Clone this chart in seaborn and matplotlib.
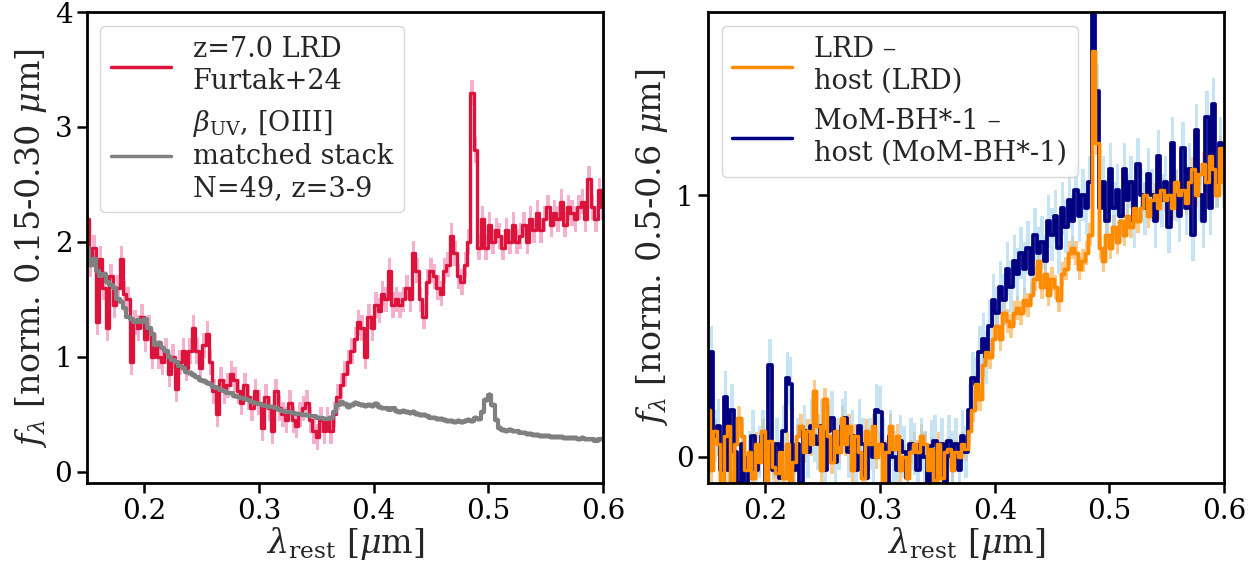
import numpy as np
import matplotlib
matplotlib.use("Agg")
import matplotlib.pyplot as plt
import seaborn as sns

# ---------------- data ----------------
wl = np.round(np.arange(0.150, 0.6001, 0.003), 3)  # rest wavelength grid [micron]

red_lrd = [
    2.2, 1.8, 1.95, 1.3, 1.85, 1.6, 1.25, 1.7, 1.45, 1.6,
    1.85, 1.55, 1.5, 0.95, 1.3, 1.25, 1.35, 1.15, 1.25, 1.0,
    1.1, 1.0, 0.95, 1.05, 0.85, 1.0, 0.72, 0.95, 1.05, 0.9,
    1.05, 1.25, 1.05, 0.9, 1.1, 1.2, 0.95, 0.7, 0.5, 0.8,
    0.7, 0.75, 0.85, 0.8, 0.7, 0.6, 0.75, 0.65, 0.55, 0.7,
    0.6, 0.38, 0.65, 0.55, 0.35, 0.7, 0.55, 0.5, 0.45, 0.6,
    0.45, 0.4, 0.5, 0.55, 0.6, 0.45, 0.35, 0.3, 0.45, 0.35,
    0.45, 0.35, 0.5, 0.65, 0.75, 0.85, 0.95, 1.05, 1.15, 1.3,
    1.25, 1.0, 1.35, 1.25, 1.45, 1.4, 1.55, 1.5, 1.75, 1.45,
    1.5, 1.45, 1.5, 1.6, 1.5, 1.9, 1.75, 1.5, 1.35, 1.65,
    1.75, 1.7, 1.6, 1.55, 1.75, 1.8, 2.05, 1.9, 1.7, 1.65,
    1.8, 2.0, 3.3, 2.8, 1.95, 2.2, 1.95, 2.15, 2.0, 2.1,
    2.05, 1.95, 2.1, 2.0, 2.15, 2.0, 2.05, 2.15, 2.0, 2.2,
    2.1, 2.25, 2.1, 2.2, 2.3, 2.15, 2.25, 2.2, 2.35, 2.15,
    2.3, 2.25, 2.2, 2.3, 2.35, 2.2, 2.55, 2.3, 2.2, 2.45,
    2.3,
]

gray_stack = [
    1.95, 1.80, 1.85, 1.75, 1.70, 1.72, 1.65, 1.62, 1.60, 1.50,
    1.48, 1.42, 1.35, 1.33, 1.30, 1.32, 1.30, 1.33, 1.25, 1.20,
    1.10, 1.12, 1.08, 1.05, 1.00, 0.97, 0.95, 0.92, 0.90, 0.87,
    0.86, 0.84, 0.82, 0.80, 0.79, 0.77, 0.76, 0.74, 0.73, 0.71,
    0.70, 0.68, 0.68, 0.66, 0.65, 0.64, 0.63, 0.62, 0.61, 0.60,
    0.59, 0.58, 0.57, 0.56, 0.56, 0.55, 0.54, 0.53, 0.52, 0.52,
    0.51, 0.50, 0.50, 0.49, 0.49, 0.48, 0.48, 0.47, 0.47, 0.46,
    0.46, 0.47, 0.52, 0.58, 0.61, 0.59, 0.56, 0.58, 0.60, 0.59,
    0.58, 0.57, 0.58, 0.57, 0.59, 0.56, 0.55, 0.55, 0.54, 0.55,
    0.53, 0.52, 0.53, 0.52, 0.51, 0.52, 0.50, 0.49, 0.49, 0.48,
    0.47, 0.47, 0.46, 0.46, 0.45, 0.44, 0.44, 0.43, 0.44, 0.43,
    0.44, 0.45, 0.44, 0.47, 0.46, 0.52, 0.62, 0.67, 0.58, 0.45,
    0.38, 0.36, 0.35, 0.36, 0.35, 0.35, 0.34, 0.34, 0.33, 0.33,
    0.32, 0.32, 0.31, 0.31, 0.31, 0.30, 0.30, 0.30, 0.30, 0.29,
    0.29, 0.29, 0.29, 0.28, 0.29, 0.28, 0.28, 0.28, 0.27, 0.28,
    0.28,
]

orange_lrd_host = [
    0.18, -0.05, 0.1, 0.05, -0.12, 0.08, 0.12, -0.1, 0.05, 0.15,
    0.08, -0.05, 0.02, -0.08, 0.05, -0.02, 0.1, -0.12, 0.06, -0.04,
    -0.06, 0.02, -0.08, 0.05, -0.1, -0.02, 0.08, 0.12, 0.02, 0.1,
    0.05, 0.25, 0.12, -0.05, 0.22, 0.08, -0.02, 0.1, 0.02, 0.15,
    0.05, 0.12, -0.05, 0.08, 0.02, -0.08, 0.1, 0.05, 0.12, 0.0,
    0.05, -0.1, 0.02, 0.12, 0.03, 0.08, -0.05, 0.0, -0.08, 0.02,
    0.05, 0.02, 0.08, 0.05, -0.05, 0.03, -0.12, 0.05, -0.08, 0.02,
    0.03, -0.05, 0.02, 0.0, 0.05, 0.03, 0.1, 0.18, 0.28, 0.22,
    0.35, 0.4, 0.38, 0.45, 0.5, 0.45, 0.55, 0.52, 0.5, 0.55,
    0.57, 0.55, 0.6, 0.58, 0.62, 0.68, 0.75, 0.65, 0.7, 0.62,
    0.68, 0.65, 0.6, 0.7, 0.72, 0.78, 0.8, 0.78, 0.72, 0.75,
    0.78, 0.85, 1.55, 1.2, 0.8, 0.75, 0.85, 0.8, 0.88, 0.82,
    0.9, 0.85, 0.92, 0.88, 0.95, 0.9, 0.95, 1.0, 0.92, 0.98,
    1.0, 0.95, 1.02, 0.98, 1.0, 0.95, 1.05, 1.0, 1.02, 0.97,
    1.05, 1.1, 1.0, 1.08, 1.12, 1.05, 1.15, 1.1, 1.0, 1.18,
    1.05,
]

navy_mom_host = [
    0.05, 0.4, 0.08, 0.12, -0.05, 0.23, -0.05, 0.18, 0.02, -0.1,
    0.05, -0.12, 0.0, 0.08, -0.05, 0.02, 0.08, -0.1, 0.35, -0.05,
    0.05, -0.08, 0.1, 0.3, 0.28, -0.05, 0.05, -0.1, 0.1, 0.02,
    0.12, 0.08, 0.05, 0.12, -0.05, 0.1, 0.15, -0.02, 0.05, 0.12,
    0.15, 0.02, 0.08, -0.05, 0.12, 0.05, -0.08, 0.05, 0.0, 0.18,
    0.17, 0.05, -0.1, 0.08, 0.0, -0.05, 0.06, 0.02, -0.08, 0.05,
    0.03, -0.05, 0.05, 0.0, -0.12, 0.04, 0.06, -0.08, 0.05, -0.1,
    0.06, 0.0, 0.05, -0.05, 0.08, 0.02, 0.18, 0.3, 0.28, 0.4,
    0.45, 0.38, 0.5, 0.6, 0.55, 0.65, 0.6, 0.72, 0.65, 0.75,
    0.7, 0.78, 0.72, 0.8, 0.7, 0.85, 0.78, 0.82, 0.75, 0.9,
    0.85, 0.92, 0.8, 0.95, 0.88, 0.98, 0.9, 1.02, 0.92, 1.0,
    0.95, 1.05, 1.75, 1.4, 0.95, 1.05, 0.9, 1.1, 0.95, 1.02,
    0.92, 1.1, 0.98, 1.05, 0.9, 1.12, 1.0, 0.95, 1.08, 1.0,
    0.9, 1.15, 0.98, 1.05, 0.88, 1.2, 1.0, 0.92, 1.18, 0.95,
    1.1, 0.85, 1.25, 1.0, 0.9, 1.3, 0.95, 1.35, 1.05, 1.2,
    1.05,
]

# typical 1-sigma uncertainties (drawn as shaded bands)
red_err = 0.11
gray_err = 0.025
orange_err = 0.045
navy_err = 0.1

left_labels = ["z=7.0 LRD\nFurtak+24",
               r"$\beta_{\rm UV}$, [OIII]" + "\nmatched stack\nN=49, z=3-9"]
right_labels = ["LRD \u2013\nhost (LRD)", "MoM-BH*-1 \u2013\nhost (MoM-BH*-1)"]
xlabel = r"$\lambda_{\rm rest}$ [$\mu$m]"
ylabel_left = r"$f_\lambda$ [norm. 0.15-0.30 $\mu$m]"
ylabel_right = r"$f_\lambda$ [norm. 0.5-0.6 $\mu$m]"

# ---------------- style ----------------
sns.set_style("ticks")
plt.rcParams["font.family"] = ["DejaVu Serif"]
plt.rcParams["mathtext.fontset"] = "dejavuserif"
plt.rcParams["axes.linewidth"] = 2.0
plt.rcParams["axes.edgecolor"] = "black"
for ax_ in ("xtick", "ytick"):
    plt.rcParams[f"{ax_}.major.width"] = 1.8
    plt.rcParams[f"{ax_}.major.size"] = 7
    plt.rcParams[f"{ax_}.labelsize"] = 20
    plt.rcParams[f"{ax_}.color"] = "black"
    plt.rcParams[f"{ax_}.direction"] = "out"

fig = plt.figure(figsize=(12.6, 5.65), dpi=100)
axL = fig.add_axes([0.069, 0.145, 0.4095, 0.8336])
axR = fig.add_axes([0.562, 0.145, 0.4095, 0.8336])

def spectrum(ax, y, err, color, band, lw, band_alpha=1.0):
    y = np.asarray(y)
    ax.fill_between(wl, y - err, y + err, step="mid", color=band,
                    alpha=band_alpha, lw=0)
    sns.lineplot(x=wl, y=y, ax=ax, drawstyle="steps-mid", color=color,
                 lw=lw, estimator=None, legend=False)

# left panel
spectrum(axL, red_lrd, red_err, "crimson", "#f5b0cd", 2.4)
spectrum(axL, gray_stack, gray_err, "gray", "#c4c4c4", 3.0)
axL.set_xlim(0.15, 0.6)
axL.set_ylim(-0.1, 4.0)
axL.set_xticks([0.2, 0.3, 0.4, 0.5, 0.6])
axL.set_yticks([0, 1, 2, 3, 4])
axL.set_xlabel(xlabel, fontsize=24, labelpad=0)
axL.set_ylabel(ylabel_left, fontsize=24, labelpad=4)
hL = [plt.Line2D([], [], color="crimson", lw=2.5),
      plt.Line2D([], [], color="gray", lw=2.5)]
axL.legend(hL, left_labels, loc="upper left", fontsize=19.5,
           handlelength=2.2, framealpha=0.8, borderpad=0.4)

# right panel
spectrum(axR, orange_lrd_host, orange_err, "darkorange", "#ffc98a", 2.5)
spectrum(axR, navy_mom_host, navy_err, "navy", "#a9d6f0", 2.7, band_alpha=0.65)
# orange drawn again on top of navy
sns.lineplot(x=wl, y=np.asarray(orange_lrd_host), ax=axR,
             drawstyle="steps-mid", color="darkorange", lw=2.5,
             estimator=None, legend=False)
axR.set_xlim(0.15, 0.6)
axR.set_ylim(-0.1, 1.7)
axR.set_xticks([0.2, 0.3, 0.4, 0.5, 0.6])
axR.set_yticks([0, 1])
axR.set_xlabel(xlabel, fontsize=24, labelpad=0)
axR.set_ylabel(ylabel_right, fontsize=24, labelpad=4)
hR = [plt.Line2D([], [], color="darkorange", lw=2.5),
      plt.Line2D([], [], color="navy", lw=2.5)]
axR.legend(hR, right_labels, loc="upper left", fontsize=19.5,
           handlelength=2.2, framealpha=0.8, borderpad=0.4)

for ax in (axL, axR):
    for s in ax.spines.values():
        s.set_visible(True)
        s.set_linewidth(2.0)

fig.savefig("out.png", dpi=100)
